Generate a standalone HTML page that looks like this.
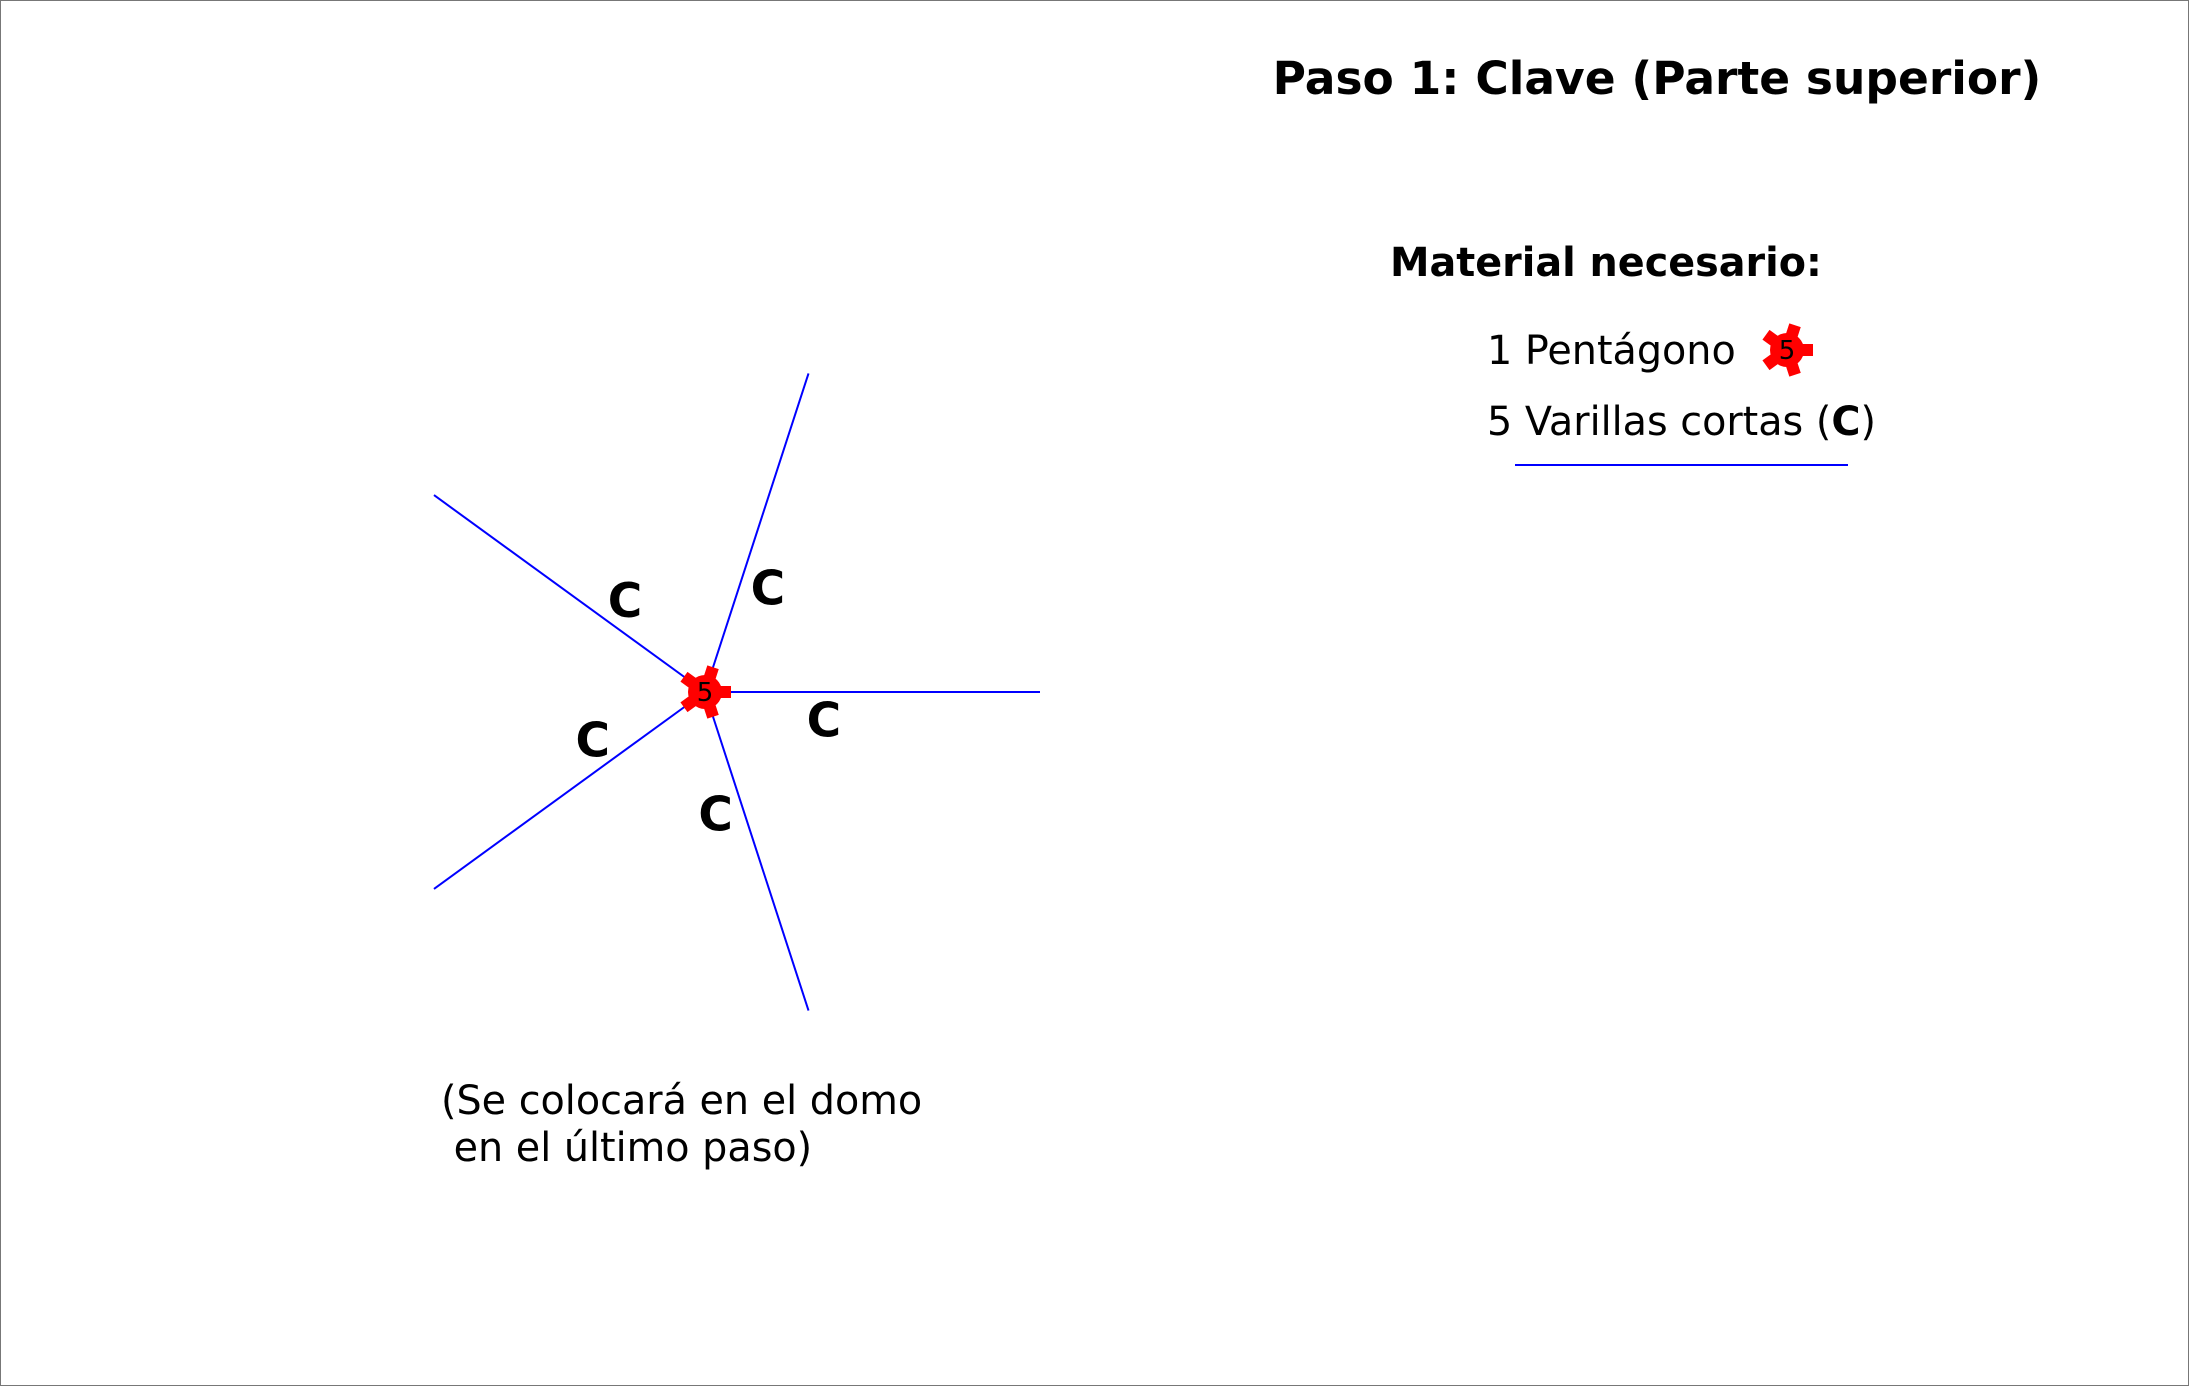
<!DOCTYPE html>
<html><head><meta charset="utf-8"><style>
html,body{margin:0;padding:0;background:#fff}
svg{display:block}
text{font-family:"DejaVu Sans","Liberation Sans",sans-serif}
</style></head><body>
<svg id="s" width="2189" height="1386" viewBox="0 0 2189 1386">
<rect x="0.5" y="0.5" width="2188" height="1385" fill="#fff" stroke="#777" stroke-width="1"/>
<text x="1657" y="94" font-size="45.5" font-weight="bold" text-anchor="middle">Paso 1: Clave (Parte superior)</text>
<text x="1390" y="276" font-size="39.7" font-weight="bold">Material necesario:</text>
<text x="1487" y="364" font-size="39.7">1 Pentágono</text>
<text x="1487" y="435" font-size="39.7">5 Varillas cortas (<tspan font-weight="bold">C</tspan>)</text>
<line x1="1515" y1="465" x2="1848" y2="465" stroke="#0000ff" stroke-width="2"/>
<text x="441" y="1114" font-size="39.7">(Se colocará en el domo</text>
<text x="441" y="1161" font-size="39.7" xml:space="preserve"> en el último paso)</text>
<g id="rods"></g>
<g id="hubs"></g>
</svg>
<script>
const rodAngles = [0, -72, -144, 144, 72];
const rodLabels = ["C", "C", "C", "C", "C"];
const rodLength = [335, 335, 335, 335, 335];
const NS = "http://www.w3.org/2000/svg";
const cx = 705, cy = 692;
const rods = document.getElementById('rods');
const hubs = document.getElementById('hubs');
function pt(a, r){const t=a*Math.PI/180;return [cx+r*Math.cos(t), cy+r*Math.sin(t)];}
rodAngles.forEach((a,i)=>{
  const e = pt(a, rodLength[i]);
  const l = document.createElementNS(NS,'line');
  l.setAttribute('x1',cx);l.setAttribute('y1',cy);l.setAttribute('x2',e[0]);l.setAttribute('y2',e[1]);
  l.setAttribute('stroke','#0000ff');l.setAttribute('stroke-width','2');
  
  
  rods.appendChild(l);
  const p = pt(a+13, 122);
  const t = document.createElementNS(NS,'text');
  t.setAttribute('x',p[0]);t.setAttribute('y',p[1]+17);
  t.setAttribute('font-size','47');t.setAttribute('font-weight','bold');t.setAttribute('text-anchor','middle');
  t.textContent = rodLabels[i];
  
  
  rods.appendChild(t);
});
function gear(x, y, name){
  const g = document.createElementNS(NS,'g');
  
  
  const c = document.createElementNS(NS,'circle');
  c.setAttribute('cx',x);c.setAttribute('cy',y);c.setAttribute('r',17);c.setAttribute('fill','#ff0000');
  g.appendChild(c);
  rodAngles.forEach(a=>{
    const r = document.createElementNS(NS,'rect');
    r.setAttribute('x',x+10);r.setAttribute('y',y-6);r.setAttribute('width',16);r.setAttribute('height',12);
    r.setAttribute('fill','#ff0000');r.setAttribute('transform','rotate('+a+' '+x+' '+y+')');
    g.appendChild(r);
  });
  const t = document.createElementNS(NS,'text');
  t.setAttribute('x',x);t.setAttribute('y',y+9);t.setAttribute('font-size','26');t.setAttribute('text-anchor','middle');
  t.textContent='5';
  g.appendChild(t);
  hubs.appendChild(g);
}
gear(cx, cy, 'pentagon-hub');
gear(1787, 350, 'pentagon-legend-icon');
</script>
</body></html>
